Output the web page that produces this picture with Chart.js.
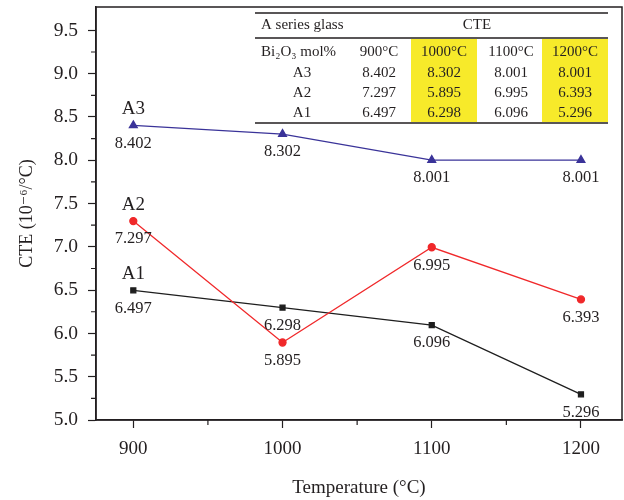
<!DOCTYPE html>
<html>
<head>
<meta charset="utf-8">
<script src="https://cdn.jsdelivr.net/npm/chart.js@4"></script>
<style>html,body{margin:0;padding:0;background:#fff}</style>
</head>
<body>
<canvas id="myChart" width="624" height="500"></canvas>
<script>
// data
const temps = [900, 1000, 1100, 1200]
const a3 = [8.402, 8.302, 8.001, 8.001]
const a2 = [7.297, 5.895, 6.995, 6.393]
const a1 = [6.497, 6.298, 6.096, 5.296]
const xTicks = [900, 1000, 1100, 1200]
const xMinor = [950, 1050, 1150]
const yTicks = [5.0, 5.5, 6.0, 6.5, 7.0, 7.5, 8.0, 8.5, 9.0, 9.5]
const yMinor = [5.25, 5.75, 6.25, 6.75, 7.25, 7.75, 8.25, 8.75, 9.25]
const tableCols = ['900°C', '1000°C', '1100°C', '1200°C']

const FONT = "'Liberation Serif', 'DejaVu Serif', serif"
const INK = '#231f20'

const toPts = (vals) => vals.map((v, i) => ({ x: temps[i], y: v }))

const extras = {
  id: 'extras',
  afterDraw(chart) {
    const ctx = chart.ctx
    const area = chart.chartArea
    const xs = chart.scales.x
    const ys = chart.scales.y
    ctx.save()
    // box round the plot
    ctx.strokeStyle = INK
    ctx.lineWidth = 1.5
    ctx.strokeRect(area.left, area.top, area.right - area.left, area.bottom - area.top)
    // minor ticks
    ctx.lineWidth = 1.2
    ctx.beginPath()
    xMinor.forEach(v => {
      const px = xs.getPixelForValue(v)
      ctx.moveTo(px, area.bottom)
      ctx.lineTo(px, area.bottom + 5)
    })
    yMinor.forEach(v => {
      const py = ys.getPixelForValue(v)
      ctx.moveTo(area.left, py)
      ctx.lineTo(area.left - 5, py)
    })
    ctx.stroke()

    // point labels
    ctx.fillStyle = INK
    ctx.textAlign = 'center'
    ctx.textBaseline = 'middle'
    chart.data.datasets.forEach((ds, di) => {
      const meta = chart.getDatasetMeta(di)
      meta.data.forEach((pt, i) => {
        ctx.font = '16.5px ' + FONT
        ctx.fillText(ds.data[i].y.toFixed(3), pt.x, pt.y + 18)
      })
      const first = meta.data[0]
      ctx.font = '19px ' + FONT
      ctx.fillText(ds.label, first.x, first.y - 16)
    })

    // inset table
    const tl = 255, tr = 608
    const colX = [379, 444, 511, 575]
    const colEdges = [[411, 477], [542, 608]]
    ctx.fillStyle = '#f7ea2a'
    colEdges.forEach(e => ctx.fillRect(e[0], 39, e[1] - e[0], 83))
    ctx.strokeStyle = INK
    ctx.lineWidth = 1.4
    ctx.beginPath()
    ;[13, 38, 123].forEach(y => { ctx.moveTo(tl, y); ctx.lineTo(tr, y) })
    ctx.stroke()

    ctx.fillStyle = INK
    ctx.font = '15px ' + FONT
    ctx.textAlign = 'left'
    ctx.fillText('A series glass', 261, 25)
    ctx.fillText('Bi₂O₃ mol%', 261, 52)
    ctx.textAlign = 'center'
    ctx.fillText('CTE', 477, 25)
    tableCols.forEach((c, i) => ctx.fillText(c, colX[i], 52))
    const rows = [['A3', a3], ['A2', a2], ['A1', a1]]
    const rowY = [73, 93, 113]
    rows.forEach((r, ri) => {
      ctx.fillText(r[0], 302, rowY[ri])
      r[1].forEach((v, i) => ctx.fillText(v.toFixed(3), colX[i], rowY[ri]))
    })
    ctx.restore()
  }
}

const ctx = document.getElementById('myChart')

const data = {
  datasets: [
    {
      label: 'A3',
      data: toPts(a3),
      borderColor: '#3a3399',
      backgroundColor: '#3a3399',
      pointStyle: 'triangle',
      pointRadius: 4.5,
      borderWidth: 1.3,
    },
    {
      label: 'A2',
      data: toPts(a2),
      borderColor: '#f0282a',
      backgroundColor: '#f0282a',
      pointStyle: 'circle',
      pointRadius: 3.5,
      borderWidth: 1.3,
    },
    {
      label: 'A1',
      data: toPts(a1),
      borderColor: '#1e1e1e',
      backgroundColor: '#1e1e1e',
      pointStyle: 'rect',
      pointRadius: 3.5,
      borderWidth: 1.3,
    },
  ]
}

const config = {
  type: 'scatter',
  data: data,
  options: {
    responsive: false,
    animation: false,
    showLine: true,
    layout: { autoPadding: false, padding: { top: 7, right: 2, left: 0, bottom: 0 } },
    plugins: { legend: { display: false }, tooltip: { enabled: false } },
    elements: { line: { tension: 0 }, point: { borderWidth: 0 } },
    scales: {
      x: {
        type: 'linear',
        min: 875,
        max: 1227.5,
        afterBuildTicks: (s) => { s.ticks = xTicks.map(v => ({ value: v })) },
        afterFit: (s) => { s.height = 80; s.paddingLeft = 0; s.paddingRight = 0 },
        grid: { drawOnChartArea: false, tickLength: 8, tickColor: INK, tickWidth: 1.2 },
        border: { color: INK, width: 1.5 },
        ticks: { color: INK, padding: 10, font: { family: FONT, size: 19 }, maxRotation: 0, callback: (v) => String(v) },
        title: { display: true, text: 'Temperature (°C)', color: INK, font: { family: FONT, size: 19 }, padding: { top: 0, bottom: 1 } }
      },
      y: {
        min: 5.0,
        max: 9.77,
        afterBuildTicks: (s) => { s.ticks = yTicks.map(v => ({ value: v })) },
        afterFit: (s) => { s.width = 96; s.paddingTop = 0; s.paddingBottom = 0 },
        grid: { drawOnChartArea: false, tickLength: 8, tickColor: INK, tickWidth: 1.2 },
        border: { color: INK, width: 1.5 },
        ticks: { color: INK, padding: 10, font: { family: FONT, size: 19.5 }, callback: (v) => Number(v).toFixed(1) },
        title: { display: true, text: 'CTE (10⁻⁶/°C)', color: INK, font: { family: FONT, size: 18 }, padding: { top: 16, bottom: 0 } }
      }
    }
  },
  plugins: [extras]
}

new Chart(ctx, config)
</script>
</body>
</html>
